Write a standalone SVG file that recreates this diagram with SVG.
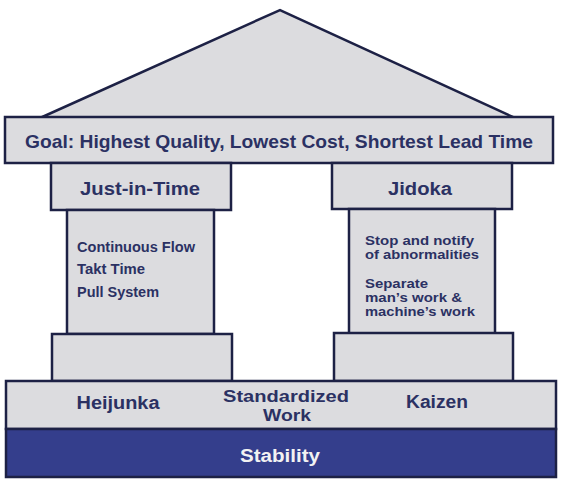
<svg xmlns="http://www.w3.org/2000/svg" width="564" height="483" viewBox="0 0 564 483">
<style>
.b{fill:#dcdcdf;stroke:#1d2145;stroke-width:2.5}
.t{font-family:"Liberation Sans",Arial,sans-serif;font-weight:bold;fill:#2b3163}
.c{text-anchor:middle}
.s{font-size:14px}
.r{font-size:12.5px}
</style>
<rect width="564" height="483" fill="#ffffff"/>
<g id="roof"><polygon class="b" points="40,118 280,10 515,118"/></g>
<g id="goal">
<rect class="b" x="5" y="117" width="548" height="46"/>
<text class="t c" x="279" y="148" font-size="19" textLength="508" lengthAdjust="spacingAndGlyphs">Goal: Highest Quality, Lowest Cost, Shortest Lead Time</text>
</g>
<g id="jit">
<rect class="b" x="51" y="163" width="180" height="47"/>
<text class="t c" x="140" y="195" font-size="18" textLength="120" lengthAdjust="spacingAndGlyphs">Just-in-Time</text>
</g>
<g id="jit-column">
<rect class="b" x="67" y="210" width="147" height="124"/>
<text class="t s" x="77" y="252" textLength="118" lengthAdjust="spacingAndGlyphs">Continuous Flow</text>
<text class="t s" x="77" y="274" textLength="68" lengthAdjust="spacingAndGlyphs">Takt Time</text>
<text class="t s" x="77" y="297" textLength="82" lengthAdjust="spacingAndGlyphs">Pull System</text>
</g>
<g id="jit-base"><rect class="b" x="52" y="334" width="180" height="47"/></g>
<g id="jidoka">
<rect class="b" x="332" y="163" width="180" height="46"/>
<text class="t c" x="420" y="195" font-size="18" textLength="64" lengthAdjust="spacingAndGlyphs">Jidoka</text>
</g>
<g id="jidoka-column">
<rect class="b" x="349" y="209" width="146" height="125"/>
<text class="t r" x="365" y="245" textLength="109" lengthAdjust="spacingAndGlyphs">Stop and notify</text>
<text class="t r" x="365" y="259" textLength="114" lengthAdjust="spacingAndGlyphs">of abnormalities</text>
<text class="t r" x="365" y="288" textLength="63" lengthAdjust="spacingAndGlyphs">Separate</text>
<text class="t r" x="365" y="302" textLength="97" lengthAdjust="spacingAndGlyphs">man’s work &amp;</text>
<text class="t r" x="365" y="316" textLength="110" lengthAdjust="spacingAndGlyphs">machine’s work</text>
</g>
<g id="jidoka-base"><rect class="b" x="334" y="333" width="179" height="48"/></g>
<g id="foundation">
<rect class="b" x="6" y="381" width="550" height="48"/>
<text class="t c" x="118" y="409" font-size="18" textLength="83" lengthAdjust="spacingAndGlyphs">Heijunka</text>
<text class="t c" x="286" y="402" font-size="16.5" textLength="126" lengthAdjust="spacingAndGlyphs">Standardized</text>
<text class="t c" x="287" y="421" font-size="16.5" textLength="48" lengthAdjust="spacingAndGlyphs">Work</text>
<text class="t c" x="437" y="408" font-size="18" textLength="62" lengthAdjust="spacingAndGlyphs">Kaizen</text>
</g>
<g id="stability">
<rect x="6" y="429" width="550" height="48" fill="#343e8c" stroke="#1d2145" stroke-width="2.5"/>
<text class="t c" x="280" y="462" font-size="18" textLength="80" lengthAdjust="spacingAndGlyphs" style="fill:#f2f2f2">Stability</text>
</g>
<g id="connectors"/>
</svg>
